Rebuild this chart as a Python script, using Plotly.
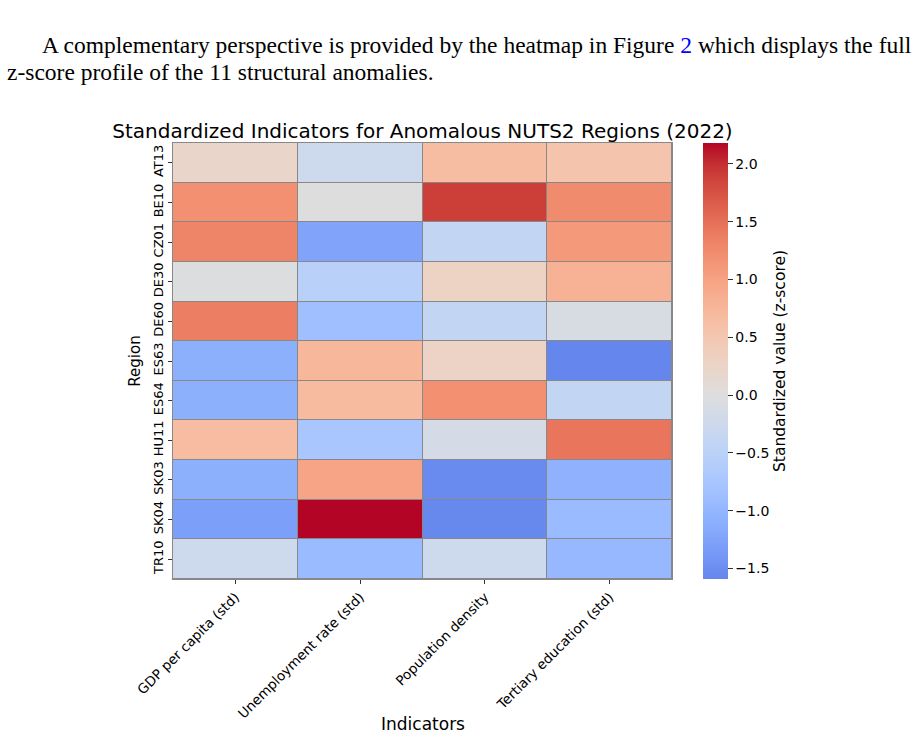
import plotly.graph_objects as go

regions = ["AT13", "BE10", "CZ01", "DE30", "DE60", "ES63", "ES64", "HU11", "SK03", "SK04", "TR10"]
indicators = ["GDP per capita (std)", "Unemployment rate (std)", "Population density", "Tertiary education (std)"]

gdp = [0.22, 1.20, 1.30, -0.02, 1.37, -1.09, -1.09, 0.67, -1.09, -1.30, -0.25]
unemp = [-0.26, 0.00, -1.24, -0.52, -0.87, 0.74, 0.68, -0.74, 0.98, 2.18, -0.93]
popd = [0.65, 1.90, -0.40, 0.28, -0.40, 0.27, 1.20, -0.15, -1.54, -1.56, -0.25]
tert = [0.55, 1.25, 1.10, 0.80, -0.10, -1.59, -0.40, 1.45, -1.07, -0.93, -0.97]

z = [[gdp[i], unemp[i], popd[i], tert[i]] for i in range(len(regions))]

# matplotlib coolwarm (Moreland) anchor colours
cw = [(59,76,192),(68,90,204),(77,104,215),(87,117,225),(98,130,234),(108,142,241),
      (119,154,247),(130,165,251),(141,176,254),(152,185,255),(163,194,255),(174,201,253),
      (184,208,249),(194,213,244),(204,217,238),(213,219,230),(221,221,221),(229,216,209),
      (236,211,197),(241,204,185),(245,196,173),(247,187,160),(247,177,148),(247,166,135),
      (244,154,123),(241,141,111),(236,127,99),(229,112,88),(222,96,77),(213,80,66),
      (203,62,56),(192,40,47),(180,4,38)]

def cw_at(t):
    t = min(max(t, 0.0), 1.0)
    p = t * (len(cw) - 1)
    i = min(int(p), len(cw) - 2)
    f = p - i
    a, b = cw[i], cw[i + 1]
    return tuple(a[k] + (b[k] - a[k]) * f for k in range(3))

allv = gdp + unemp + popd + tert
vmin, vmax = min(allv), max(allv)
vr = max(abs(vmin), abs(vmax))  # centred at 0 like seaborn center=0
n = 40
scale = []
for j in range(n + 1):
    s = j / n
    v = vmin + s * (vmax - vmin)
    t = (v + vr) / (2 * vr)
    c = cw_at(t)
    scale.append([s, "rgb(%d,%d,%d)" % tuple(round(x) for x in c)])

font = "DejaVu Sans"
W, H = 919, 738
L, R, T, B = 173, 247, 143, 159
pw = W - L - R
ph = H - T - B

fig = go.Figure(go.Heatmap(
    z=z, x=indicators, y=regions, colorscale=scale, zmin=vmin, zmax=vmax,
    xgap=1, ygap=1,
    colorbar=dict(
        title=dict(text="Standardized value (z-score)", side="right",
                   font=dict(family=font, size=15.5, color="#000")),
        thickness=25, len=1, lenmode="fraction", y=0.5, yanchor="middle", ypad=0,
        x=1 + (703 - 672) / pw, xanchor="left", xpad=0, outlinewidth=0,
        tickvals=[-1.5, -1.0, -0.5, 0.0, 0.5, 1.0, 1.5, 2.0], tickformat=".1f",
        ticks="outside", ticklen=5, tickcolor="#333",
        tickfont=dict(family=font, size=14, color="#000"),
    ),
))

fig.update_layout(
    width=W, height=H,
    margin=dict(l=L, r=R, t=T, b=B, autoexpand=False),
    paper_bgcolor="white", plot_bgcolor="#888888",
    title=dict(text="Standardized Indicators for Anomalous NUTS2 Regions (2022)",
               x=(L + pw / 2) / W, xanchor="center", y=1 - 131 / H, yanchor="middle",
               font=dict(family=font, size=20, color="#000")),
    xaxis=dict(automargin=False,
               tickangle=-45, ticks="outside", ticklen=4, tickcolor="#333",
               tickfont=dict(family=font, size=13.5, color="#000"),
               showline=True, mirror=True, linecolor="#888888", linewidth=1, showgrid=False),
    yaxis=dict(title=dict(text="Region", font=dict(family=font, size=15, color="#000"), standoff=6),
               automargin=False,
               autorange="reversed", tickangle=-90, ticks="outside", ticklen=4, tickcolor="#333",
               tickfont=dict(family=font, size=13, color="#000"),
               showline=True, mirror=True, linecolor="#888888", linewidth=1, showgrid=False),
)

fig.add_annotation(text="Indicators", xref="paper", yref="paper", x=0.5, y=-(724 - (T + ph)) / ph,
                   xanchor="center", yanchor="middle", showarrow=False,
                   font=dict(family=font, size=17, color="#000"))

para_font = dict(family="Liberation Serif", size=23.5, color="#000")
fig.add_annotation(text="A complementary perspective is provided by the heatmap in Figure "
                        "<span style='color:#0000ff'>2</span> which displays the full",
                   xref="paper", yref="paper", x=(40 - L) / pw, y=1 + (T - 45) / ph,
                   xanchor="left", yanchor="middle", showarrow=False, font=para_font)
fig.add_annotation(text="z-score profile of the 11 structural anomalies.",
                   xref="paper", yref="paper", x=(5 - L) / pw, y=1 + (T - 72) / ph,
                   xanchor="left", yanchor="middle", showarrow=False, font=para_font)

fig.write_html("out.html")
